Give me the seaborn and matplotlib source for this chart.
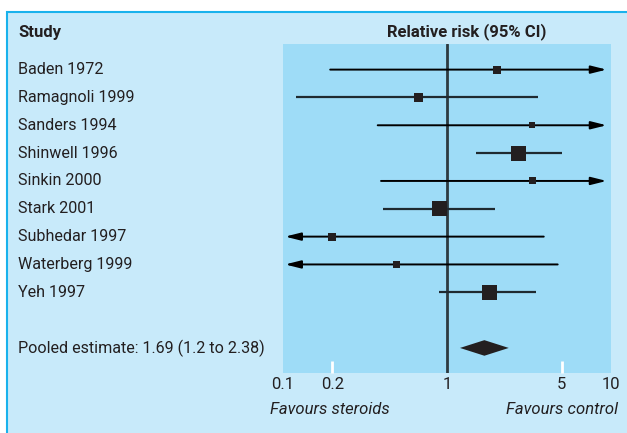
# forest plot : corticoides vs controle
import numpy as np
import pandas as pd
import matplotlib.pyplot as plt
import matplotlib.transforms as mtransforms
from matplotlib.patches import Rectangle
import seaborn as sns

studies = ["Baden 1972", "Ramagnoli 1999", "Sanders 1994", "Shinwell 1996", "Sinkin 2000",
           "Stark 2001", "Subhedar 1997", "Waterberg 1999", "Yeh 1997"]
rr = [2.01, 0.67, 3.30, 2.72, 3.31, 0.90, 0.198, 0.49, 1.82]
ci_low = [0.194, 0.12, 0.378, 1.50, 0.396, 0.409, 0.05, 0.05, 0.898]
ci_high = [20.0, 3.59, 20.0, 5.00, 20.0, 1.95, 3.89, 4.73, 3.49]
weights = [8, 9, 6, 15, 7, 15, 8, 7, 15]  # taille relative des carres

pooled = 1.69
pooled_low = 1.2
pooled_high = 2.38
pooled_label = "Pooled estimate: 1.69 (1.2 to 2.38)"

tick_values = [0.1, 0.2, 1, 5, 10]
tick_labels = ["0.1", "0.2", "1", "5", "10"]

W, H = 627, 433
BG = "#c8eafa"
PANEL = "#9edcf7"
INK = "#231f20"
FS = 11.6

sns.set_style("white")
plt.rcParams['font.family'] = ['Roboto', 'DejaVu Sans']
plt.rcParams['font.size'] = FS
plt.rcParams['text.color'] = INK

fig = plt.figure(figsize=(W / 100, H / 100), dpi=100)
fig.patch.set_facecolor("white")
fig.patches.append(Rectangle((7 / W, -0.01), 1.2, 1 - 12 / H + 0.01, transform=fig.transFigure,
                             facecolor=BG, edgecolor="#19b2ec", lw=1.5, zorder=-5))

ax = fig.add_axes([283 / W, 1 - 373 / H, (611 - 283) / W, (373 - 44) / H])
ax.set_facecolor(PANEL)
ax.set_xscale("log")
xmin, xmax = 0.1, 10
ax.set_xlim(xmin, xmax)
ax.set_ylim(10.9, -0.92)
for s in ax.spines.values():
    s.set_visible(False)

df = pd.DataFrame({"study": studies, "rr": rr, "low": ci_low, "high": ci_high,
                   "w": weights, "row": np.arange(len(studies))})
df["area"] = (df["w"] * 0.72) ** 2

# ligne de reference
ax.axvline(1, color="#2d3a40", lw=2, zorder=1)

# intervalles de confiance (fleches si hors echelle)
tip_r = xmax * 0.94
tip_l = xmin * 1.03
arrow = "-|>,head_length=0.8,head_width=0.2"
for _, r in df.iterrows():
    lo = max(r["low"], tip_l)
    hi = min(r["high"], tip_r)
    if r["high"] > xmax:
        ax.annotate("", xy=(tip_r, r["row"]), xytext=(lo, r["row"]),
                    arrowprops=dict(arrowstyle=arrow, color="black", lw=1.4,
                                    shrinkA=0, shrinkB=0), zorder=2)
    elif r["low"] < xmin:
        ax.annotate("", xy=(tip_l, r["row"]), xytext=(hi, r["row"]),
                    arrowprops=dict(arrowstyle=arrow, color="black", lw=1.4,
                                    shrinkA=0, shrinkB=0), zorder=2)
    else:
        ax.hlines(r["row"], lo, hi, color="#1f2a30", lw=1.6, zorder=2)

sns.scatterplot(data=df, x="rr", y="row", size="area", sizes=(df["area"].min(), df["area"].max()),
                size_norm=(df["area"].min(), df["area"].max()), marker="s", color=INK,
                linewidth=0, legend=False, ax=ax, zorder=3)

# estimation combinee
prow = len(studies) + 1
h = 0.28
ax.fill([pooled_low, pooled, pooled_high, pooled], [prow, prow - h, prow, prow + h],
        color=INK, lw=0, zorder=3)

ax.set_xticks(tick_values)
ax.set_xticklabels(tick_labels)
ax.xaxis.set_minor_locator(plt.NullLocator())
ax.tick_params(axis="x", direction="in", length=9, width=2, color="white", pad=3,
               labelsize=12, labelcolor=INK, bottom=True)
for i, t in enumerate(ax.xaxis.get_major_ticks()):
    if tick_values[i] in (0.1, 1, 10):
        t.tick1line.set_visible(False)
ax.set_yticks([])
ax.set_xlabel("")
ax.set_ylabel("")

trans = mtransforms.blended_transform_factory(fig.transFigure, ax.transData)
for i, name in enumerate(studies):
    ax.text(18 / W, i, name, transform=trans, ha="left", va="center", clip_on=False)
ax.text(18 / W, prow, pooled_label, transform=trans, ha="left", va="center", clip_on=False)

fig.text(18 / W, 1 - 32 / H, "Study", weight="bold", fontsize=12, ha="left", va="center")
fig.text(466.5 / W, 1 - 32 / H, "Relative risk (95% CI)", weight="bold", fontsize=12,
         ha="center", va="center")
fig.text(270 / W, 1 - 410 / H, "Favours steroids", style="italic", fontsize=12, ha="left", va="center")
fig.text(618 / W, 1 - 410 / H, "Favours control", style="italic", fontsize=12, ha="right", va="center")

fig.savefig("out.png", dpi=100)
